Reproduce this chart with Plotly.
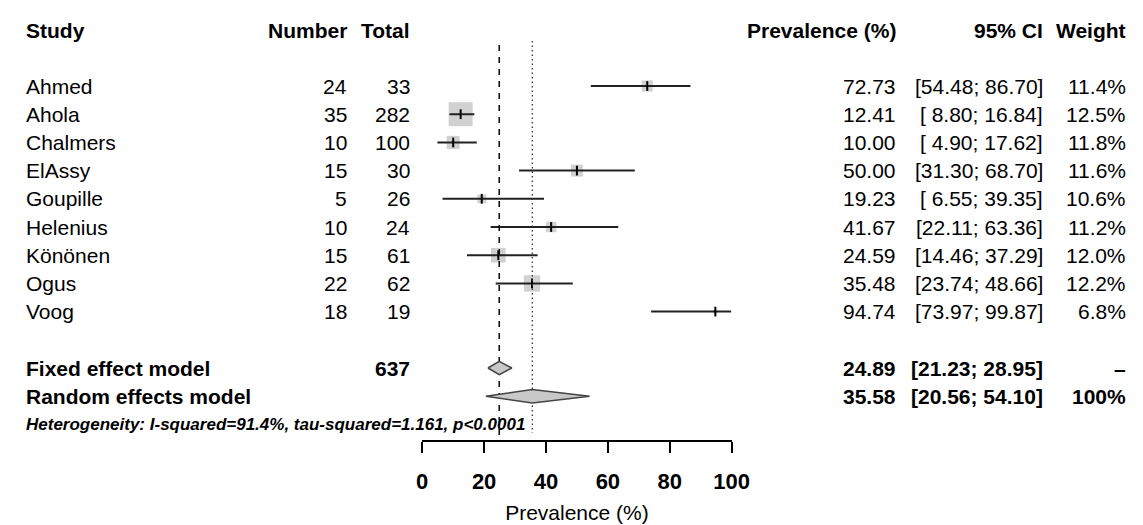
import math
import plotly.graph_objects as go

# ---------------- data ----------------
studies = ["Ahmed", "Ahola", "Chalmers", "ElAssy", "Goupille", "Helenius", "Könönen", "Ogus", "Voog"]
events = [24, 35, 10, 15, 5, 10, 15, 22, 18]
totals = [33, 282, 100, 30, 26, 24, 61, 62, 19]
prevalence = [72.73, 12.41, 10.00, 50.00, 19.23, 41.67, 24.59, 35.48, 94.74]
ci_low = [54.48, 8.80, 4.90, 31.30, 6.55, 22.11, 14.46, 23.74, 73.97]
ci_high = [86.70, 16.84, 17.62, 68.70, 39.35, 63.36, 37.29, 48.66, 99.87]
weights = [11.4, 12.5, 11.8, 11.6, 10.6, 11.2, 12.0, 12.2, 6.8]

fixed_total = 637
fixed_est, fixed_low, fixed_high = 24.89, 21.23, 28.95
random_est, random_low, random_high = 35.58, 20.56, 54.10
random_weight = "100%"
fixed_weight = "–"
heterogeneity = "Heterogeneity: I-squared=91.4%, tau-squared=1.161, p<0.0001"

x_ticks = [0, 20, 40, 60, 80, 100]
x_title = "Prevalence (%)"
headers = ["Study", "Number", "Total", "Prevalence (%)", "95% CI", "Weight"]

# ---------------- layout constants ----------------
W, H = 1143, 525
AX_Y = 432           # pixel row of the x axis line
AX_X0, AX_X1 = 417, 733
HEADER_Y = 22
ROW0 = 78
ROW_H = 28.2
FONT = "Arial, Liberation Sans, Helvetica, sans-serif"
FS = 21

col_study = 10
col_number = 342
col_total = 407
col_prev = 903
col_ci = 1053
col_weight = 1138

row_y = [ROW0 + i * ROW_H for i in range(len(studies))]
fixed_y = ROW0 + (len(studies) + 1) * ROW_H
random_y = fixed_y + ROW_H
het_y = random_y + ROW_H

fig = go.Figure()

# square sizes from fixed-effect (inverse variance on logit) weights
fw = [n * (e / n) * (1 - e / n) for e, n in zip(events, totals)]
fwmax = max(fw)
sizes = [24 * math.sqrt(w / fwmax) for w in fw]

fig.add_trace(go.Scatter(
    x=prevalence, y=row_y, mode="markers",
    marker=dict(symbol="square", size=sizes, color="#bdbdbd", line=dict(width=0)),
    hoverinfo="skip", cliponaxis=False))

# CI lines
cx, cy = [], []
for lo, hi, y in zip(ci_low, ci_high, row_y):
    cx += [lo, hi, None]
    cy += [y, y, None]
fig.add_trace(go.Scatter(x=cx, y=cy, mode="lines",
                         line=dict(color="#222222", width=2), hoverinfo="skip", cliponaxis=False))

# point estimate ticks
fig.add_trace(go.Scatter(
    x=prevalence, y=row_y, mode="markers",
    marker=dict(symbol="line-ns", size=7, line=dict(color="#000000", width=2)),
    hoverinfo="skip", cliponaxis=False))

# reference lines
fig.add_trace(go.Scatter(x=[fixed_est, fixed_est], y=[37, AX_Y], mode="lines",
                         line=dict(color="#111111", width=1.6, dash="6px,6px"), hoverinfo="skip"))
fig.add_trace(go.Scatter(x=[random_est, random_est], y=[33, 425], mode="lines",
                         line=dict(color="#333333", width=1.3, dash="1.5px,3px"), hoverinfo="skip"))

# diamonds
DH = 6.7
for est, lo, hi, y in [(fixed_est, fixed_low, fixed_high, fixed_y),
                       (random_est, random_low, random_high, random_y)]:
    fig.add_trace(go.Scatter(
        x=[lo, est, hi, est, lo], y=[y, y - DH, y, y + DH, y],
        mode="lines", fill="toself", fillcolor="#c8c8c8",
        line=dict(color="#444444", width=1.5), hoverinfo="skip"))

ann = []


def txt(x, y, s, anchor="right", bold=False, italic=False, size=FS):
    t = s
    if bold:
        t = "<b>" + t + "</b>"
    if italic:
        t = "<i>" + t + "</i>"
    ann.append(dict(x=x / W, y=y, xref="paper", yref="y", text=t, showarrow=False,
                    xanchor=anchor, yanchor="middle",
                    font=dict(family=FONT, size=size, color="#000000")))


# headers
hx = [col_study, col_number, col_total, col_prev, col_ci, col_weight]
for i, (h, x) in enumerate(zip(headers, hx)):
    txt(x, HEADER_Y, h, anchor="left" if i == 0 else "right", bold=True)

# study rows
for s, e, n, p, lo, hi, w, y in zip(studies, events, totals, prevalence, ci_low, ci_high, weights, row_y):
    txt(col_study, y, s, anchor="left")
    txt(col_number, y, str(e))
    txt(col_total, y, str(n))
    txt(col_prev, y, f"{p:.2f}")
    los = f"{lo:5.2f}".replace(" ", "&nbsp;")
    txt(col_ci, y, f"[{los}; {hi:.2f}]")
    txt(col_weight, y, f"{w:.1f}%")

# summary rows
txt(col_study, fixed_y, "Fixed effect model", anchor="left", bold=True)
txt(col_total, fixed_y, str(fixed_total), bold=True)
txt(col_prev, fixed_y, f"{fixed_est:.2f}", bold=True)
txt(col_ci, fixed_y, f"[{fixed_low:.2f}; {fixed_high:.2f}]", bold=True)
txt(col_weight, fixed_y, fixed_weight, bold=True)

txt(col_study, random_y, "Random effects model", anchor="left", bold=True)
txt(col_prev, random_y, f"{random_est:.2f}", bold=True)
txt(col_ci, random_y, f"[{random_low:.2f}; {random_high:.2f}]", bold=True)
txt(col_weight, random_y, random_weight, bold=True)

txt(col_study, het_y, heterogeneity, anchor="left", bold=True, italic=True, size=17)

fig.update_layout(
    width=W, height=H,
    margin=dict(l=0, r=0, t=0, b=0),
    paper_bgcolor="white", plot_bgcolor="white",
    showlegend=False,
    annotations=ann,
    xaxis=dict(domain=[AX_X0 / W, AX_X1 / W], range=[0, 100],
               tickvals=x_ticks, ticktext=["<b>" + str(t) + "</b>" for t in x_ticks],
               showline=True, linecolor="#000000", linewidth=1.5,
               ticks="outside", ticklen=11, tickwidth=1.5, tickcolor="#000000",
               showgrid=False, zeroline=False,
               tickfont=dict(family=FONT, size=22, color="#000000"),
               ticklabelstandoff=10,
               title=dict(text=x_title, font=dict(family=FONT, size=FS, color="#000000"), standoff=12)),
    yaxis=dict(domain=[(H - AX_Y) / H, 1], range=[AX_Y, 0], visible=False,
               showgrid=False, zeroline=False),
)

fig.write_html("out.html")
